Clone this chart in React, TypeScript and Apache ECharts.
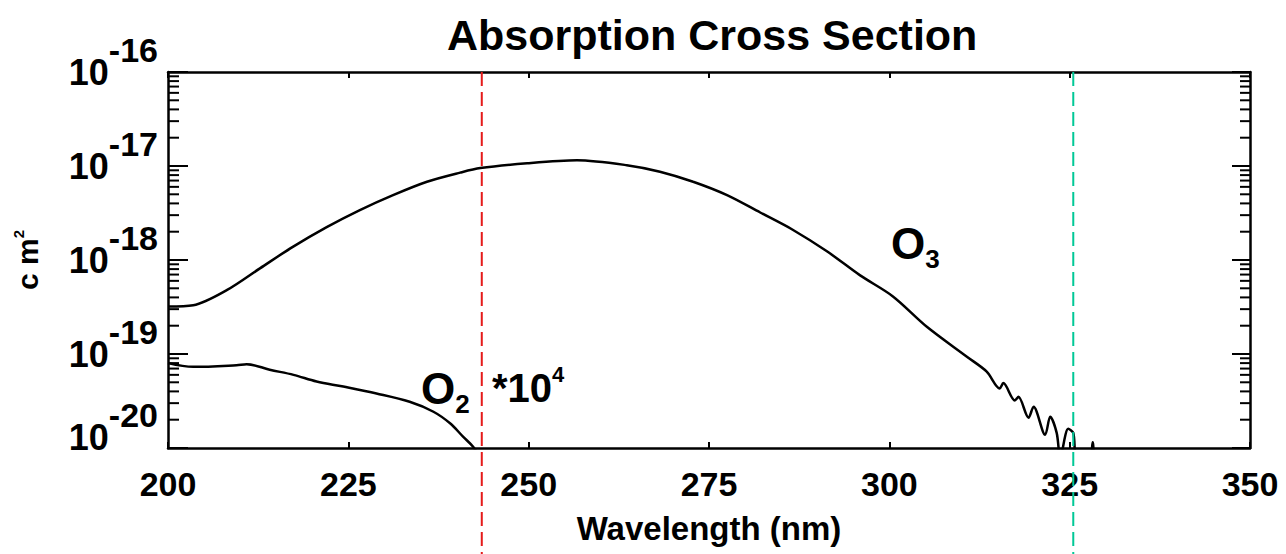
import React, { useEffect, useRef } from "react";
import * as echarts from "echarts";

const xTicks = [200, 225, 250, 275, 300, 325, 350];
const yDecades = [1e-20, 1e-19, 1e-18, 1e-17, 1e-16];
const minorMultipliers = [2, 3, 4, 5, 6, 7, 8, 9];

const o3Wavelength = [
  200, 203.5, 208.2, 212.8, 217.3, 222.0, 226.6, 231.2, 235.9, 240.5, 243.3, 249.8,
  256.7, 263.6, 268.2, 272.8, 277.5, 282.1, 286.6, 291.4, 295.9, 300.5, 305.2, 310.8,
  313.5, 315.3, 315.8, 317.4, 317.9, 319.3, 320.0, 321.6, 322.3, 323.2, 323.7, 324.8,
  325.5, 326.0, 327.8, 328.2, 328.6, 335, 350,
];
const o3Cross = [
  3.2e-19, 3.3e-19, 4.8e-19, 8.2e-19, 1.38e-18, 2.24e-18, 3.4e-18, 4.9e-18, 6.8e-18, 8.5e-18, 9.5e-18, 1.07e-17,
  1.15e-17, 1.02e-17, 8.7e-18, 6.8e-18, 4.9e-18, 3.2e-18, 2.1e-18, 1.23e-18, 6.9e-19, 4.1e-19, 1.95e-19, 9.3e-20,
  6.5e-20, 4.3e-20, 4.9e-20, 3.2e-20, 3.5e-20, 2.1e-20, 2.75e-20, 1.38e-20, 2.15e-20, 1.45e-20, 8e-21, 1.6e-20,
  1.45e-20, 8e-21, 8e-21, 1.15e-20, 8e-21, 5e-21, 3e-21,
];

const o2Wavelength = [200, 203.5, 209.5, 210.9, 214.1, 217.4, 220.6, 224.3, 228.9, 233.5, 236.8, 239.1, 240.9, 242.3, 243.2];
const o2Cross = [8.0e-20, 7.3e-20, 7.6e-20, 7.8e-20, 6.8e-20, 6.0e-20, 5.1e-20, 4.5e-20, 3.8e-20, 3.1e-20, 2.43e-20, 1.83e-20, 1.32e-20, 1.03e-20, 8e-21];

const markerWavelengths = [243.5, 325.5];
const markerColors = ["#e51a1a", "#00c896"];

const titleText = "Absorption Cross Section";
const xName = "Wavelength (nm)";

const SANS = "'Liberation Sans', Arial, Helvetica, sans-serif";

export default function App() {
  const ref = useRef<HTMLDivElement>(null);

  useEffect(() => {
    if (!ref.current) return;
    const chart = echarts.init(ref.current, null, { renderer: "svg" });

    const minorTicks: number[][] = [];
    yDecades.slice(0, -1).forEach((d) => {
      minorMultipliers.forEach((m) => minorTicks.push([xTicks[0], d * m]));
    });

    const xMin = xTicks[0];
    const xMax = xTicks[xTicks.length - 1];
    const yMin = yDecades[0];
    const yMax = yDecades[yDecades.length - 1];
    const minExp = Math.round(Math.log10(yMin));

    const axisLineStyle = { color: "#000", width: 2.5 };

    const option: any = {
      animation: false,
      backgroundColor: "#fff",
      title: {
        text: titleText,
        left: 442,
        top: 8,
        textStyle: { fontFamily: SANS, fontWeight: "bold", fontSize: 43, color: "#000" },
      },
      grid: { left: 168, right: 36, top: 72, bottom: 106, containLabel: false, outerBoundsMode: "none" },
      xAxis: [
        {
          type: "value",
          min: xMin,
          max: xMax,
          interval: 25,
          name: xName,
          nameLocation: "middle",
          nameGap: 64,
          nameTextStyle: { fontFamily: SANS, fontWeight: "bold", fontSize: 33, color: "#000" },
          axisLine: { show: true, lineStyle: axisLineStyle },
          axisTick: { show: true, inside: true, length: 6, lineStyle: { color: "#000", width: 2 } },
          axisLabel: {
            show: true,
            margin: 19,
            fontFamily: SANS,
            fontWeight: "bold",
            fontSize: 34,
            color: "#000",
            showMinLabel: true,
            showMaxLabel: true,
          },
          splitLine: { show: false },
        },
        {
          type: "value",
          position: "top",
          min: xMin,
          max: xMax,
          interval: 25,
          axisLine: { show: true, lineStyle: axisLineStyle },
          axisTick: { show: true, inside: true, length: 6, lineStyle: { color: "#000", width: 2 } },
          axisLabel: { show: false },
          splitLine: { show: false },
        },
      ],
      yAxis: [
        {
          type: "log",
          logBase: 10,
          min: yMin,
          max: yMax,
          name: "{a|c m}{s|2}",
          nameLocation: "middle",
          nameRotate: 90,
          nameGap: 124,
          nameTextStyle: {
            rich: {
              a: { fontFamily: SANS, fontWeight: "bold", fontSize: 30, color: "#000" },
              s: { fontFamily: SANS, fontWeight: "bold", fontSize: 15, color: "#000", padding: [0, 0, 18, 0] },
            },
          },
          axisLine: { show: true, lineStyle: axisLineStyle },
          axisTick: { show: true, inside: true, length: 20, lineStyle: { color: "#000", width: 2 } },
          axisLabel: {
            show: true,
            margin: 10,
            formatter: (v: number) => {
              const e = Math.round(Math.log10(v));
              return e === minExp ? `{b2|10}{s2|${e}}` : `{b|10}{s|${e}}`;
            },
            rich: {
              b: { fontFamily: SANS, fontWeight: "bold", fontSize: 36, color: "#000" },
              s: { fontFamily: SANS, fontWeight: "bold", fontSize: 34, color: "#000", padding: [0, 0, 44, 0] },
              b2: { fontFamily: SANS, fontWeight: "bold", fontSize: 36, color: "#000", padding: [0, 0, 22, 0] },
              s2: { fontFamily: SANS, fontWeight: "bold", fontSize: 34, color: "#000", padding: [0, 0, 66, 0] },
            },
          },
          splitLine: { show: false },
        },
        {
          type: "log",
          logBase: 10,
          position: "right",
          min: yMin,
          max: yMax,
          axisLine: { show: true, lineStyle: axisLineStyle },
          axisTick: { show: true, inside: true, length: 18, lineStyle: { color: "#000", width: 2 } },
          axisLabel: { show: false },
          splitLine: { show: false },
        },
      ],
      series: [
        {
          name: "O3",
          type: "line",
          xAxisIndex: 0,
          yAxisIndex: 0,
          data: o3Wavelength.map((w, i) => [w, o3Cross[i]]),
          symbol: "none",
          showSymbol: false,
          smooth: 0.3,
          clip: true,
          lineStyle: { color: "#000", width: 2.5 },
          silent: true,
        },
        {
          name: "O2",
          type: "line",
          xAxisIndex: 0,
          yAxisIndex: 0,
          data: o2Wavelength.map((w, i) => [w, o2Cross[i]]),
          symbol: "none",
          showSymbol: false,
          smooth: 0.35,
          clip: true,
          lineStyle: { color: "#000", width: 2.5 },
          silent: true,
        },
        {
          name: "minorTicks",
          type: "custom",
          xAxisIndex: 0,
          yAxisIndex: 0,
          silent: true,
          data: minorTicks,
          renderItem: (_params: any, api: any) => {
            const v = api.value(1);
            const l = api.coord([xMin, v]);
            const r = api.coord([xMax, v]);
            return {
              type: "group",
              children: [
                { type: "line", shape: { x1: l[0], y1: l[1], x2: l[0] + 11, y2: l[1] }, style: { stroke: "#000", lineWidth: 2 } },
                { type: "line", shape: { x1: r[0], y1: r[1], x2: r[0] - 10, y2: r[1] }, style: { stroke: "#000", lineWidth: 2 } },
              ],
            };
          },
        },
      ],
    };

    chart.setOption(option);

    const topY = chart.convertToPixel({ yAxisIndex: 0 }, yMax) as number;
    const graphics: any[] = markerWavelengths.map((w, i) => {
      const x = chart.convertToPixel({ xAxisIndex: 0 }, w) as number;
      return {
        type: "line",
        shape: { x1: x, y1: topY, x2: x, y2: 554 },
        style: { stroke: markerColors[i], lineWidth: 2, lineDash: [14, 6] },
        z: 20,
        silent: true,
      };
    });
    graphics.push({
      type: "text",
      x: 891,
      y: 214,
      z: 20,
      style: {
        text: "{o|O}{s|3}",
        rich: {
          o: { fontFamily: SANS, fontWeight: "bold", fontSize: 44, fill: "#000" },
          s: { fontFamily: SANS, fontWeight: "bold", fontSize: 26, fill: "#000", padding: [32, 0, 0, 0] },
        },
      },
    });
    graphics.push({
      type: "text",
      x: 421,
      y: 359,
      z: 20,
      style: {
        text: "{o|O}{s|2}{t|  *10}{p|4}",
        rich: {
          o: { fontFamily: SANS, fontWeight: "bold", fontSize: 44, fill: "#000" },
          s: { fontFamily: SANS, fontWeight: "bold", fontSize: 26, fill: "#000", padding: [32, 0, 0, 0] },
          t: { fontFamily: SANS, fontWeight: "bold", fontSize: 40, fill: "#000" },
          p: { fontFamily: SANS, fontWeight: "bold", fontSize: 22, fill: "#000", padding: [0, 0, 28, 0] },
        },
      },
    });
    chart.setOption({ graphic: graphics });

    return () => chart.dispose();
  }, []);

  return (
    <div
      ref={ref}
      style={{ position: "fixed", left: 0, top: 0, width: 1286, height: 554, background: "#fff" }}
    />
  );
}
